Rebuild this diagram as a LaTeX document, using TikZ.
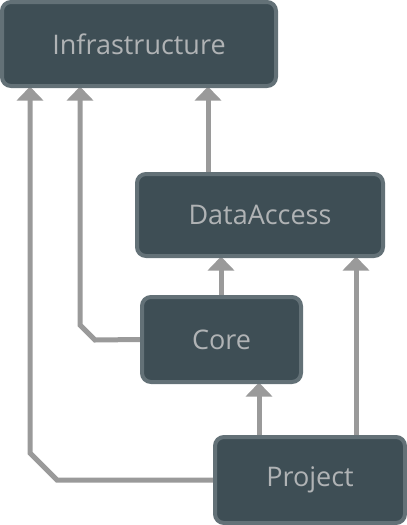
\documentclass[tikz,border=0pt]{standalone}
\usepackage{fontspec}
\setmainfont{Open Sans}
\usetikzlibrary{arrows.meta,backgrounds}
\definecolor{boxfill}{HTML}{3E4E55}
\definecolor{boxline}{HTML}{637177}
\definecolor{boxtext}{HTML}{B0B3B5}
\definecolor{arrcol}{HTML}{9A9A9A}
\tikzset{
  modbox/.style={draw=boxline, fill=boxfill, line width=4pt, rounded corners=9pt,
    inner sep=0pt, text=boxtext, font=\fontsize{27}{32}\selectfont},
  deparrow/.style={draw=arrcol, line width=5pt, -{Triangle[width=26pt,length=14pt]}, shorten >=-1.5pt}
}
\begin{document}
\begin{tikzpicture}[x=1pt,y=-1pt]
\useasboundingbox (0,0) rectangle (407,525);
\node[modbox, minimum width=274pt, minimum height=84pt] (infra) at (139,44) {Infrastructure};
\node[modbox, minimum width=246pt, minimum height=82pt] (data) at (260,215) {DataAccess};
\node[modbox, minimum width=159pt, minimum height=85pt] (core) at (221.5,339.5) {Core};
\node[modbox, minimum width=190pt, minimum height=86pt] (proj) at (310,480) {Project};
\begin{scope}[on background layer]
\draw[deparrow] (proj.west) -- (57,480) -- (30,453) -- (30,0 |- infra.south);
\draw[deparrow] (core.west) -- (95,340) -- (80,325) -- (80,0 |- infra.south);
\draw[deparrow] (208,0 |- data.north) -- (208,0 |- infra.south);
\draw[deparrow] (221,0 |- core.north) -- (221,0 |- data.south);
\draw[deparrow] (259,0 |- proj.north) -- (259,0 |- core.south);
\draw[deparrow] (356,0 |- proj.north) -- (356,0 |- data.south);
\end{scope}
\end{tikzpicture}
\end{document}
